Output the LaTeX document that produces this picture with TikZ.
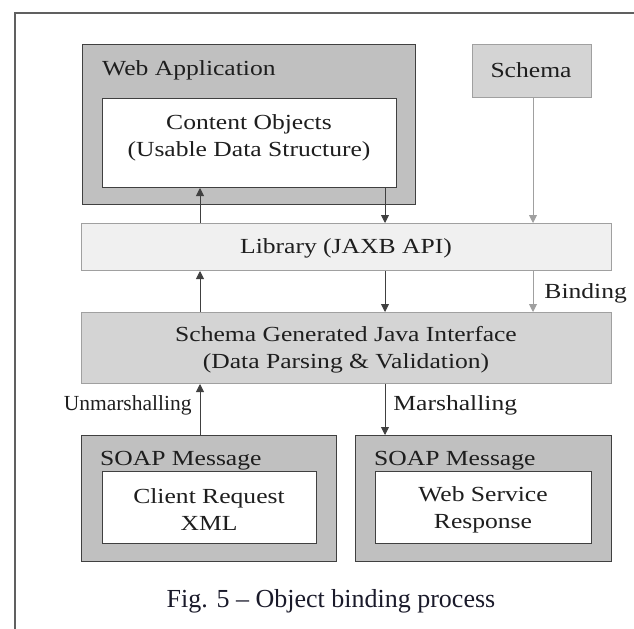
\documentclass[tikz,border=0pt]{standalone}
\usepackage{fontspec}
\setmainfont{Liberation Serif}[FakeStretch=1.19]
\newfontfamily\plainserif{Liberation Serif}
\usepackage{tikz}
\usetikzlibrary{arrows.meta}
\definecolor{cFrame}{RGB}{96,96,96}
\definecolor{cEdge}{RGB}{64,64,64}
\definecolor{cSoft}{RGB}{160,160,160}
\definecolor{cDark}{RGB}{192,192,192}
\definecolor{cMid}{RGB}{212,212,212}
\definecolor{cLight}{RGB}{240,240,240}
\definecolor{cInk}{RGB}{30,30,30}
\definecolor{cCaption}{RGB}{26,26,42}

\begin{document}
\begin{tikzpicture}[x=1bp,y=-1bp,
  every node/.style={inner sep=0pt,align=center,text=cInk,font=\fontsize{21.5bp}{27bp}\selectfont},
  wrapbox/.style={draw=cEdge,fill=cDark,line width=1.2bp,anchor=north west},
  paperbox/.style={draw=cEdge,fill=white,line width=1bp,anchor=north west},
  bandbox/.style={draw=cSoft,line width=1bp,anchor=north west},
  flow/.style={-{Triangle[length=8bp,width=8bp]},draw=cEdge,line width=0.9bp},
  feed/.style={flow,draw=cSoft}]
\useasboundingbox (0,0) rectangle (634,629);
% page frame, only top and left show
\draw[cFrame,line width=1.5bp] (15,629) -- (15,13) -- (634,13);
% top row
\node[wrapbox,minimum width=333bp,minimum height=160bp] (webapp) at (82,44) {};
\node[anchor=west] (webapplbl) at (102,70) {Web Application};
\node[paperbox,minimum width=294bp,minimum height=89bp] (content) at (102,98) {};
\node (contentlbl) at (249,138) {Content Objects\\(Usable Data Structure)};
\node[bandbox,fill=cMid,minimum width=119bp,minimum height=53bp] (schema) at (472,44) {};
\node (schemalbl) at (531,70) {Schema};
% middle bands
\node[bandbox,fill=cLight,minimum width=530bp,minimum height=47bp] (library) at (81,223) {};
\node (librarylbl) at (346,248) {Library (JAXB API)};
\node[bandbox,fill=cMid,minimum width=530bp,minimum height=71bp] (sgji) at (81,312) {};
\node (sgjilbl) at (346,350) {Schema Generated Java Interface\\(Data Parsing \& Validation)};
% soap messages
\node[wrapbox,minimum width=255bp,minimum height=126bp] (soapin) at (81,435) {};
\node[anchor=west] (soapinlbl) at (100,461) {SOAP Message};
\node[paperbox,minimum width=214bp,minimum height=72bp] (request) at (102,471) {};
\node (requestlbl) at (209,510) {Client Request\\XML};
\node[wrapbox,minimum width=256bp,minimum height=126bp] (soapout) at (355,435) {};
\node[anchor=west] (soapoutlbl) at (374,461) {SOAP Message};
\node[paperbox,minimum width=216bp,minimum height=72bp] (response) at (375,471) {};
\node (responselbl) at (483,510) {Web Service\\Response};
% arrow columns
\coordinate (colA) at (200,0);
\coordinate (colB) at (385,0);
\coordinate (colC) at (533,0);
\draw[flow] (library.north -| colA) -- (content.south -| colA);
\draw[flow] (content.south -| colB) -- (library.north -| colB);
\draw[feed] (schema.south -| colC) -- (library.north -| colC);
\draw[flow] (sgji.north -| colA) -- (library.south -| colA);
\draw[flow] (library.south -| colB) -- (sgji.north -| colB);
\draw[feed] (library.south -| colC) -- node[right=11bp,yshift=-2bp] (bindlbl) {Binding} (sgji.north -| colC);
\draw[flow] (soapin.north -| colA) -- node[left=8bp,yshift=4bp,font=\plainserif\fontsize{21.5bp}{27bp}\selectfont] (unmarshlbl) {Unmarshalling} (sgji.south -| colA);
\draw[flow] (sgji.south -| colB) -- node[right=8bp,yshift=4bp] (marshlbl) {Marshalling} (soapout.north -| colB);
\node[text=cCaption,font=\plainserif\fontsize{26bp}{30bp}\selectfont] (caption) at (331,601) {Fig. 5 – Object binding process};
\end{tikzpicture}
\end{document}
